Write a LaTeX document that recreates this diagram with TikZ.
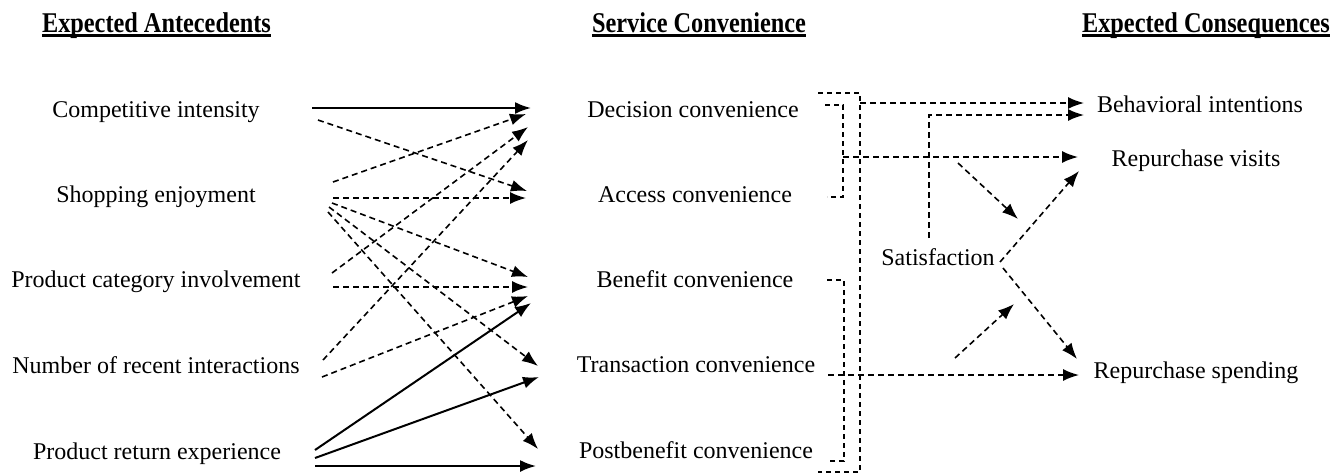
\documentclass[tikz,border=0pt]{standalone}
\usepackage{fontspec}
\setmainfont{Liberation Serif}
\newfontfamily\hdfont[FakeStretch=0.85]{Liberation Serif}
\usetikzlibrary{arrows.meta,calc}
\begin{document}
\begin{tikzpicture}[x=1pt,y=-1pt,
  lbl/.style={anchor=base, inner sep=0pt, font=\fontsize{24}{28}\selectfont},
  hd/.style={anchor=base, inner sep=0pt, font=\hdfont\bfseries\fontsize{28.6}{32}\selectfont},
  uline/.style={line width=2.6pt},
  tip/.style={-{Latex[length=16pt,width=12pt]}},
  sol/.style={line width=2pt, tip},
  dsh/.style={line width=1.6pt, dash pattern=on 6pt off 4pt, tip},
  brk/.style={line width=1.4pt, dash pattern=on 5pt off 4pt},
]
\useasboundingbox (0,0) rectangle (1337,475);

% headers
\node[hd] (h1) at (156.5,32) {Expected Antecedents};
\node[hd] (h2) at (699,32) {Service Convenience};
\node[hd] (h3) at (1206,32) {Expected Consequences};
\foreach \h in {h1,h2,h3}
  \draw[uline] ($(\h.base west)+(0,3.5)$) -- ($(\h.base east)+(0,3.5)$);

% left labels
\node[lbl] (l1) at (156,117) {Competitive intensity};
\node[lbl] (l2) at (156,202) {Shopping enjoyment};
\node[lbl] (l3) at (156,287) {Product category involvement};
\node[lbl] (l4) at (156,373) {Number of recent interactions};
\node[lbl] (l5) at (157,459) {Product return experience};

% middle labels
\node[lbl] (m1) at (693,117) {Decision convenience};
\node[lbl] (m2) at (695,202) {Access convenience};
\node[lbl] (m3) at (695,287) {Benefit convenience};
\node[lbl] (m4) at (696,372) {Transaction convenience};
\node[lbl] (m5) at (696,458) {Postbenefit convenience};

% right labels
\node[lbl] (r1) at (1200,112) {Behavioral intentions};
\node[lbl] (r2) at (1196,166) {Repurchase visits};
\node[lbl] (r3) at (1196,378) {Repurchase spending};
\node[lbl] (sat) at (938,265) {Satisfaction};

% ports on the left side
\coordinate (a1) at (312,108);  \coordinate (b1) at (531,108);
\coordinate (a2) at (318,120);  \coordinate (b2) at (527,191);
\coordinate (a3) at (333,182);  \coordinate (b3) at (526,114);
\coordinate (a4) at (333,198);  \coordinate (b4) at (526,198);
\coordinate (a5) at (332,203);  \coordinate (b5) at (528,277);
\coordinate (a6) at (329,207);  \coordinate (b6) at (538,366);
\coordinate (a7) at (328,212);  \coordinate (b7) at (538,449);
\coordinate (a8) at (332,273);  \coordinate (b8) at (528,127);
\coordinate (a9) at (333,287);  \coordinate (b9) at (528,287);
\coordinate (a10) at (323,360); \coordinate (b10) at (528,140);
\coordinate (a11) at (322,377); \coordinate (b11) at (528,296);
\coordinate (a12) at (315,450); \coordinate (b12) at (531,303);
\coordinate (a13) at (315,458); \coordinate (b13) at (539,377);
\coordinate (a14) at (315,466); \coordinate (b14) at (536,466);

\draw[sol] (a1) -- (b1);
\draw[dsh] (a2) -- (b2);
\draw[dsh] (a3) -- (b3);
\draw[dsh] (a4) -- (b4);
\draw[dsh] (a5) -- (b5);
\draw[dsh] (a6) -- (b6);
\draw[dsh] (a7) -- (b7);
\draw[dsh] (a8) -- (b8);
\draw[dsh] (a9) -- (b9);
\draw[dsh] (a10) -- (b10);
\draw[dsh] (a11) -- (b11);
\draw[sol] (a12) -- (b12);
\draw[sol] (a13) -- (b13);
\draw[sol] (a14) -- (b14);

% brackets
\draw[brk] (818,93) -- (860,93) -- (860,472) -- (818,472);
\draw[brk] (825,105) -- (843,105) -- (843,197) -- (827,197);
\draw[brk] (827,280) -- (844,280) -- (844,461) -- (827,461);

% right side connectors
\coordinate (c1) at (843,157);  \coordinate (d1) at (1078,157);
\coordinate (c2) at (860,103);  \coordinate (d2) at (1084,103);
\coordinate (c3) at (929,238);  \coordinate (c3b) at (929,115); \coordinate (d3) at (1084,115);
\coordinate (c4) at (828,375);  \coordinate (d4) at (1079,375);
\coordinate (c5) at (1000,262); \coordinate (d5) at (1079,171);
\coordinate (c6) at (1003,268); \coordinate (d6) at (1077,359);
\coordinate (c7) at (958,163);  \coordinate (d7) at (1018,219);
\coordinate (c8) at (955,358);  \coordinate (d8) at (1014,304);

\draw[dsh] (c1) -- (d1);
\draw[dsh] (c2) -- (d2);
\draw[dsh] (c3) -- (c3b) -- (d3);
\draw[dsh] (c4) -- (d4);
\draw[dsh] (c5) -- (d5);
\draw[dsh] (c6) -- (d6);
\draw[dsh] (c7) -- (d7);
\draw[dsh] (c8) -- (d8);
\end{tikzpicture}
\end{document}
